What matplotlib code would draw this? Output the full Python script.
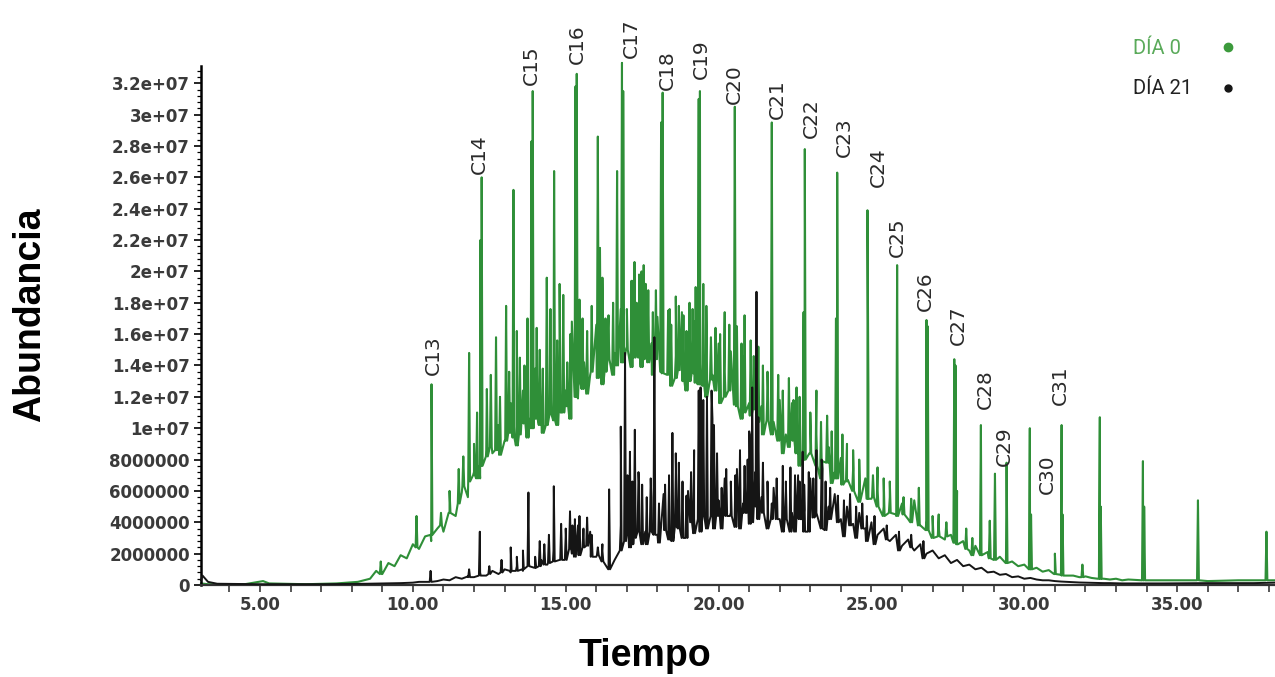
import numpy as np
import matplotlib.pyplot as plt
from matplotlib.ticker import FixedLocator, MultipleLocator

# all abundances below are in millions (x 1e6), times in minutes

# DÍA 0 (green): jagged trace read every 0.2 min starting at 8.6 min
green_start = 8.6
green_step = 0.2
green_trace = [
    0.4, 0.9, 0.7, 1.4, 1.2,
    1.9, 1.7, 2.6, 2.3, 3.1,
    2.8, 3.6, 3.4, 4.6, 4.4,
    5.9, 5.6, 7.2, 6.8, 8.6,
    8.4, 10.2, 9.2, 11.6, 10.1,
    12.4, 10.6, 13.8, 11.2, 14.6,
    11.8, 15.2, 12.4, 16.8, 11.9,
    14.2, 13.4, 16.6, 14.1, 17.2,
    14.8, 17.6, 15.2, 19.4, 16.6,
    19.2, 15.4, 17.1, 14.4, 17.6,
    14.6, 17.4, 13.9, 16.8, 14.1,
    16.2, 13.4, 15.4, 13.6, 14.9,
    12.2, 14.6, 11.6, 13.8, 11.4,
    12.6, 10.4, 11.8, 9.6, 11.6,
    9.2, 10.8, 8.4, 9.6, 7.9,
    8.8, 7.2, 8.1, 6.6, 7.4,
    6.1, 6.8, 5.5, 6.1, 5.0,
    5.6, 4.5, 5.2, 4.2, 5.4,
    3.8, 4.1, 3.3, 3.7, 2.9,
    3.2, 2.6, 2.8, 2.2, 2.5,
    1.9, 2.1, 1.6, 1.8, 1.4,
    1.5, 1.2, 1.3, 1.0, 1.1,
    0.85, 0.95, 0.7, 0.8, 0.6,
    0.6, 0.5, 0.55, 0.45, 0.4,
    0.4, 0.35, 0.4, 0.3, 0.35,
]
# flat parts before and after the hump
green_edge_t = [3.07, 3.3, 4.5, 5.1, 5.3, 6.5, 7.5, 8.2, 34.6, 36.0, 37.0, 38.2]
green_edge_v = [0.1, 0.05, 0.05, 0.25, 0.1, 0.05, 0.1, 0.2, 0.3, 0.25, 0.3, 0.3]
# main peaks: (time, foot, apex)
green_peaks = [
    (8.95, 0.7, 1.5), (10.12, 2.4, 4.4), (10.61, 3.2, 12.8), (10.92, 3.8, 4.6),
    (11.2, 4.6, 6.0), (11.84, 6.6, 14.8), (12.0, 7.0, 9.0), (12.21, 7.6, 22.0),
    (12.25, 7.6, 26.0), (12.42, 8.2, 12.5), (12.72, 8.6, 15.8), (13.05, 9.2, 17.8),
    (13.29, 9.4, 25.2), (13.5, 9.6, 14.5), (13.88, 10.0, 28.3), (13.92, 10.0, 31.5),
    (14.15, 10.2, 15.0), (14.38, 10.2, 19.6), (14.62, 10.5, 26.4), (14.8, 11.0, 19.2),
    (14.92, 11.0, 18.5), (15.32, 12.0, 31.8), (15.36, 12.0, 32.6), (15.55, 12.5, 17.0),
    (16.05, 13.2, 28.6), (16.12, 13.4, 21.5), (16.3, 13.6, 17.0), (16.68, 14.0, 26.4),
    (16.84, 14.2, 33.3), (16.88, 14.2, 31.5), (17.25, 14.5, 20.6), (17.4, 14.5, 19.8),
    (17.55, 14.4, 20.4), (17.7, 14.2, 18.8), (18.12, 13.6, 29.5), (18.17, 13.5, 31.4),
    (18.35, 13.4, 17.5), (18.6, 13.2, 18.4), (18.85, 13.0, 17.2), (19.05, 13.0, 18.0),
    (19.25, 12.9, 19.0), (19.35, 12.8, 31.0), (19.39, 12.8, 31.5), (19.5, 12.7, 19.2),
    (19.9, 12.4, 16.4), (20.2, 12.0, 17.4), (20.53, 11.5, 30.5), (20.6, 11.4, 16.5),
    (20.85, 11.0, 17.2), (21.05, 10.8, 15.6), (21.3, 10.4, 15.2), (21.74, 9.6, 29.5),
    (21.95, 9.2, 13.4), (22.3, 8.8, 13.2), (22.55, 8.4, 12.6), (22.78, 8.0, 17.4),
    (22.82, 8.0, 27.8), (23.2, 7.6, 12.4), (23.84, 6.8, 17.0), (23.88, 6.8, 26.3),
    (24.05, 6.4, 9.6), (24.4, 6.0, 8.6), (24.87, 5.5, 23.9), (24.9, 5.5, 12.5),
    (25.2, 5.0, 7.5), (25.6, 4.6, 6.6), (25.84, 4.4, 20.4), (26.3, 4.0, 5.5),
    (26.55, 3.8, 6.2), (26.80, 3.5, 16.9), (26.84, 3.5, 16.5), (27.2, 3.1, 4.5),
    (27.71, 2.7, 14.4), (27.75, 2.7, 14.0), (27.8, 2.6, 6.0), (28.1, 2.3, 3.6),
    (28.58, 1.9, 10.2), (28.87, 1.7, 4.1), (29.04, 1.6, 7.1), (29.42, 1.4, 7.8),
    (30.18, 1.0, 10.0), (30.22, 1.0, 4.5), (31.0, 0.7, 2.0), (31.22, 0.65, 10.2),
    (31.25, 0.6, 4.5), (31.9, 0.5, 1.3), (32.47, 0.4, 10.7), (32.5, 0.4, 5.0),
    (33.88, 0.3, 7.9), (33.92, 0.3, 5.0), (35.68, 0.3, 5.4), (37.92, 0.3, 3.4),
]
# smaller peaks filling the unresolved hump
green_minor_peaks = [
    (11.5, 5.2, 7.4), (11.65, 6.3, 8.2), (12.1, 6.8, 11.0), (12.55, 8.8, 13.4),
    (12.85, 8.3, 12.0), (13.15, 9.7, 13.6), (13.4, 8.9, 16.2), (13.65, 10.3, 14.0),
    (13.75, 9.4, 17.0), (14.05, 10.6, 16.4), (14.25, 9.7, 13.8), (14.5, 10.9, 17.6),
    (14.72, 10.2, 15.6), (15.05, 11.4, 14.2), (15.15, 10.6, 16.0), (15.45, 12.9, 18.2),
    (15.7, 12.2, 16.2), (15.85, 13.6, 17.8), (16.2, 12.8, 19.6), (16.4, 14.4, 16.4),
    (16.55, 13.4, 18.0), (17.0, 15.0, 17.6), (17.15, 13.9, 19.4), (17.32, 15.1, 18.0),
    (17.48, 13.9, 20.0), (17.62, 14.9, 19.2), (17.85, 13.4, 17.4), (17.95, 14.4, 18.8),
    (18.45, 12.7, 16.6), (18.7, 13.7, 17.8), (18.95, 12.4, 16.2), (19.15, 13.5, 17.6),
    (19.6, 12.0, 17.8), (19.75, 13.1, 15.8), (20.05, 11.6, 16.0), (20.35, 12.4, 16.6),
    (20.75, 10.6, 15.4), (21.15, 11.2, 14.6), (21.45, 9.6, 14.0), (21.6, 10.5, 13.6),
    (22.1, 8.4, 12.4), (22.45, 9.2, 11.8), (22.65, 7.6, 12.0), (23.0, 8.4, 11.0),
    (23.35, 6.8, 10.4), (23.55, 7.8, 10.8), (23.7, 6.5, 9.8), (24.2, 6.7, 9.0),
    (24.6, 5.3, 8.0), (25.05, 5.6, 7.0), (25.4, 4.4, 6.8), (26.05, 4.5, 5.6),
    (27.0, 3.0, 4.4), (27.45, 3.1, 4.0), (28.3, 1.9, 3.0),
]

# DÍA 21 (black): jagged trace read every 0.2 min starting at 10.0 min
black_start = 10.0
black_step = 0.2
black_trace = [
    0.15, 0.2, 0.2, 0.3, 0.25,
    0.35, 0.3, 0.5, 0.4, 0.55,
    0.5, 0.8, 0.6, 0.9, 0.7,
    1.0, 0.8, 1.2, 0.9, 1.4,
    1.1, 1.6, 1.3, 2.2, 1.6,
    3.2, 2.0, 3.8, 2.4, 3.4,
    1.8, 2.6, 1.2, 1.6, 3.8,
    5.2, 3.0, 6.4, 3.4, 5.6,
    3.2, 5.8, 3.6, 7.2, 4.4,
    6.0, 4.2, 9.4, 7.0, 10.6,
    5.4, 6.8, 4.6, 7.4, 5.2,
    9.8, 7.2, 5.6, 4.4, 6.2,
    4.2, 6.6, 4.6, 7.0, 4.8,
    6.8, 4.6, 7.4, 5.0, 5.8,
    4.2, 5.0, 3.9, 4.6, 3.6,
    4.0, 3.2, 3.6, 2.8, 3.2,
    2.5, 2.9, 2.2, 2.6, 2.0,
    2.2, 1.7, 1.9, 1.4, 1.6,
    1.2, 1.3, 1.0, 1.1, 0.8,
    0.85, 0.65, 0.7, 0.5, 0.55,
    0.4, 0.45, 0.35, 0.3, 0.3,
    0.25, 0.22, 0.2, 0.18, 0.16,
    0.15, 0.14, 0.13, 0.12, 0.12,
    0.11, 0.1, 0.1, 0.1, 0.1,
]
black_edge_t = [3.07, 3.12, 3.3, 3.6, 5.0, 7.0, 8.5, 9.6, 34.5, 36.0, 37.5, 38.2]
black_edge_v = [0.3, 0.6, 0.2, 0.08, 0.05, 0.05, 0.08, 0.12, 0.1, 0.12, 0.12, 0.15]
black_peaks = [
    (10.58, 0.2, 0.9), (11.84, 0.5, 1.0), (12.19, 0.6, 3.4), (12.5, 0.7, 1.2),
    (13.2, 0.9, 2.4), (13.78, 1.2, 5.9), (14.0, 1.1, 1.8), (14.3, 1.3, 2.6),
    (14.61, 1.5, 6.3), (14.85, 1.6, 3.9), (15.14, 2.3, 4.7), (15.3, 1.8, 4.2),
    (15.7, 2.5, 4.3), (16.05, 1.9, 2.4), (16.42, 1.0, 6.1), (16.8, 2.2, 10.1),
    (16.94, 2.8, 14.8), (17.1, 2.4, 8.5), (17.26, 3.0, 9.9), (17.5, 2.6, 6.4),
    (17.9, 3.2, 15.8), (18.49, 2.8, 9.7), (18.7, 3.6, 7.8), (18.95, 3.0, 5.7),
    (19.35, 4.2, 12.4), (19.41, 3.4, 12.6), (19.5, 4.4, 11.8), (19.62, 3.6, 12.0),
    (19.77, 4.4, 12.4), (19.85, 3.6, 10.2), (20.4, 4.4, 6.6), (20.7, 3.6, 8.6),
    (20.95, 4.6, 8.0), (21.1, 4.0, 12.6), (21.24, 5.0, 18.7), (21.3, 4.2, 10.7),
    (21.74, 4.2, 5.2), (22.35, 3.4, 7.5), (22.75, 4.2, 8.5), (22.8, 3.4, 6.4),
    (23.2, 4.4, 8.6), (23.37, 3.6, 8.0), (23.9, 4.0, 5.7), (24.85, 2.8, 4.4),
]
black_minor_peaks = [
    (12.9, 0.8, 1.6), (13.4, 0.9, 1.8), (13.6, 1.0, 2.2), (14.15, 1.2, 2.8),
    (14.45, 1.4, 3.2), (15.0, 1.6, 3.6), (15.22, 2.2, 3.8), (15.45, 1.9, 4.4),
    (15.58, 2.4, 3.6), (15.85, 1.8, 3.2), (16.2, 1.5, 2.2), (17.02, 3.2, 7.0),
    (17.18, 2.6, 6.6), (17.38, 3.4, 7.2), (17.65, 2.6, 5.6), (17.78, 3.4, 6.8),
    (18.05, 2.7, 5.2), (18.25, 3.5, 6.4), (18.38, 2.9, 7.0), (18.6, 3.7, 8.4),
    (18.82, 3.0, 6.6), (19.1, 4.0, 7.2), (19.2, 3.3, 8.6), (19.95, 4.4, 8.4),
    (20.1, 3.6, 6.2), (20.25, 4.4, 7.4), (20.55, 3.7, 7.0), (20.85, 4.6, 7.6),
    (21.02, 3.9, 9.6), (21.45, 4.6, 7.8), (21.6, 3.6, 6.6), (21.9, 4.2, 6.8),
    (22.1, 3.4, 7.6), (22.2, 4.2, 6.0), (22.5, 3.4, 7.0), (22.65, 4.2, 6.6),
    (22.95, 3.4, 7.2), (23.1, 4.3, 6.8), (23.5, 3.5, 6.6), (23.65, 4.2, 6.2),
    (24.1, 3.1, 5.4), (24.3, 3.8, 5.8), (24.5, 3.0, 5.0), (24.7, 3.6, 5.2),
    (25.1, 2.6, 4.4), (25.5, 2.9, 3.8), (25.9, 2.2, 3.4), (26.3, 2.4, 3.2),
    (26.7, 1.7, 2.8),
]

# carbon number labels: name, time, bottom of text
alkane_names = ["C13", "C14", "C15", "C16", "C17", "C18", "C19", "C20", "C21", "C22",
                "C23", "C24", "C25", "C26", "C27", "C28", "C29", "C30", "C31"]
alkane_label_t = [10.66, 12.19, 13.89, 15.37, 17.16, 18.34, 19.45, 20.53, 21.91, 23.02,
                  24.13, 25.24, 25.86, 26.78, 27.83, 28.74, 29.36, 30.74, 31.19]
alkane_label_v = [13.4, 26.2, 31.9, 33.2, 33.6, 31.6, 32.3, 30.7, 29.7, 28.5,
                  27.3, 25.4, 20.9, 17.5, 15.3, 11.2, 7.6, 5.8, 11.5]

y_ticks = [0, 2, 4, 6, 8, 10, 12, 14, 16, 18, 20, 22, 24, 26, 28, 30, 32]
y_tick_labels = ["0", "2000000", "4000000", "6000000", "8000000", "1e+07", "1.2e+07",
                 "1.4e+07", "1.6e+07", "1.8e+07", "2e+07", "2.2e+07", "2.4e+07",
                 "2.6e+07", "2.8e+07", "3e+07", "3.2e+07"]
x_ticks = [5, 10, 15, 20, 25, 30, 35]
x_tick_labels = ["5.00", "10.00", "15.00", "20.00", "25.00", "30.00", "35.00"]


def build_trace(start, step, values, edge_t, edge_v, peaks, half_width=0.03):
    t = list(start + step * np.arange(len(values))) + list(edge_t)
    v = list(values) + list(edge_v)
    for pt, foot, top in peaks:
        t += [pt - half_width, pt, pt + half_width]
        v += [foot, top, foot]
    order = np.argsort(t, kind="stable")
    return np.array(t)[order], np.array(v)[order] * 1e6


green_t, green_v = build_trace(green_start, green_step, green_trace, green_edge_t,
                               green_edge_v, green_peaks + green_minor_peaks)
black_t, black_v = build_trace(black_start, black_step, black_trace, black_edge_t,
                               black_edge_v, black_peaks + black_minor_peaks)

fig = plt.figure(figsize=(12.75, 6.77), dpi=100)
ax = fig.add_axes([201 / 1275, 1 - 585 / 677, 1 - 201 / 1275, (585 - 66) / 677])

ax.plot(green_t, green_v, color="#2f8f38", lw=1.5, clip_on=False, zorder=2)
ax.plot(black_t, black_v, color="#151515", lw=1.4, clip_on=False, zorder=3)

for name, lt, lv in zip(alkane_names, alkane_label_t, alkane_label_v):
    ax.text(lt, lv * 1e6, name, rotation=90, ha="center", va="bottom",
            fontsize=14.5, color="#2a2a2a", family="DejaVu Sans")

ax.set_xlim(3.07, 38.2)
ax.set_ylim(0, 33.1e6)

ax.spines["top"].set_visible(False)
ax.spines["right"].set_visible(False)
ax.spines["left"].set_linewidth(1.8)
ax.spines["bottom"].set_linewidth(1.6)
ax.spines["bottom"].set_color("#333333")

ax.yaxis.set_major_locator(FixedLocator([v * 1e6 for v in y_ticks]))
ax.set_yticklabels(y_tick_labels)
ax.yaxis.set_minor_locator(MultipleLocator(0.4e6))
ax.xaxis.set_major_locator(FixedLocator(x_ticks))
ax.set_xticklabels(x_tick_labels)
ax.xaxis.set_minor_locator(MultipleLocator(1))

tick_font = {"family": "DejaVu Sans", "weight": "bold", "size": 12}
for lab in ax.get_xticklabels() + ax.get_yticklabels():
    lab.set_fontproperties(tick_font)
    lab.set_color("#3a3a3a")
ax.tick_params(axis="y", which="major", length=5, width=1.2, pad=3)
ax.tick_params(axis="y", which="minor", length=3, width=0.9)
ax.tick_params(axis="x", which="both", length=5, width=1.2, pad=3, colors="#3a3a3a")

fig.text(30 / 1275, 1 - 315 / 677, "Abundancia", rotation=90, ha="center", va="center",
         fontsize=27, fontweight="bold", family="Liberation Sans")
fig.text(645 / 1275, 1 - 656 / 677, "Tiempo", ha="center", va="center",
         fontsize=27, fontweight="bold", family="Liberation Sans")

# legend drawn as texts plus dots
fig.text(1133 / 1275, 1 - 49 / 677, "DÍA 0", ha="left", va="center",
         fontsize=14.5, color="#5aaa5a", family="Roboto")
fig.text(1133 / 1275, 1 - 88 / 677, "DÍA 21", ha="left", va="center",
         fontsize=14.5, color="#222222", family="Roboto")
ax.plot([1228 / 1275], [1 - 47 / 677], "o", color="#3c9a3c", ms=6,
        transform=fig.transFigure, clip_on=False)
ax.plot([1228 / 1275], [1 - 88 / 677], "o", color="#151515", ms=5,
        transform=fig.transFigure, clip_on=False)

fig.savefig("out.png", dpi=100)
